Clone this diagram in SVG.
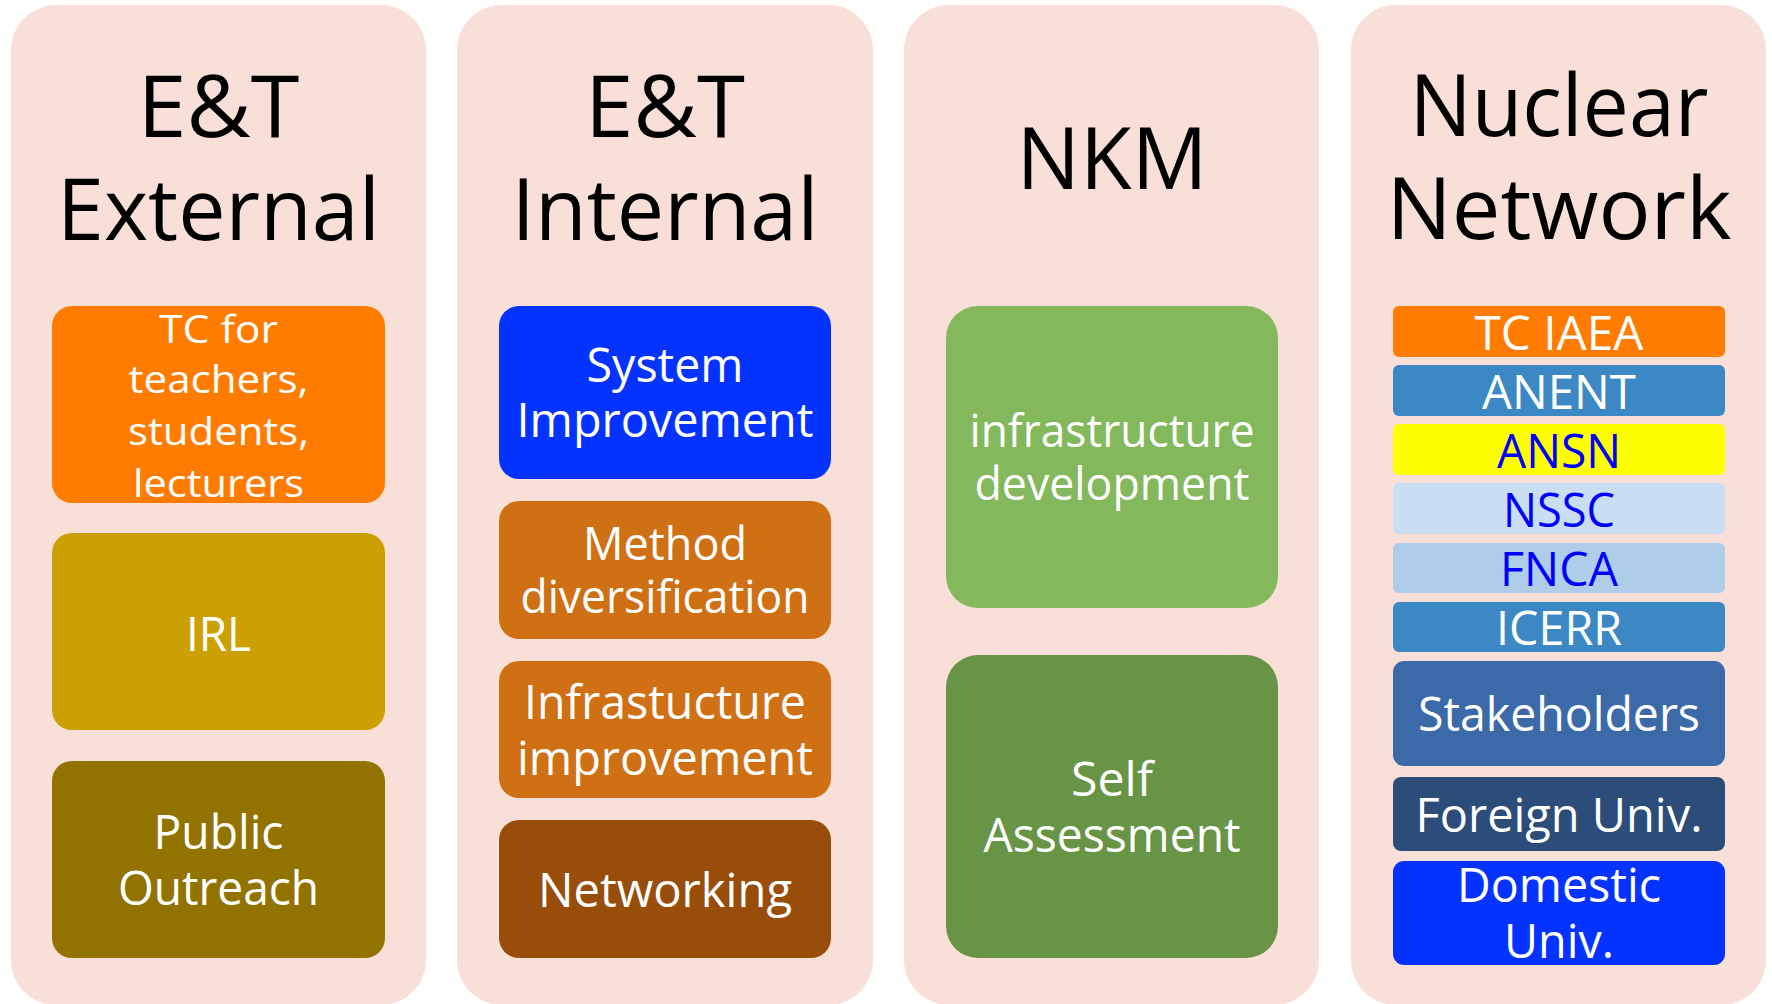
<svg xmlns="http://www.w3.org/2000/svg" width="1772" height="1004" viewBox="0 0 1772 1004">
<style>
.bg{fill:#ffffff}
.panel{fill:#F8DFD7}
text{font-family:"Open Sans","Liberation Sans",sans-serif;text-anchor:middle}
.title{font-size:86px;fill:#000000}
.w{fill:#ffffff;font-size:47.5px}
.b{fill:#0000FF;font-size:47.5px}
.s39{font-size:39px}
.s45{font-size:45px}
</style>
<rect class="bg" x="0" y="0" width="1772" height="1004"/>

<g id="panel-et-external">
<rect class="panel" x="11" y="5" width="415" height="1000" rx="45"/>
<text class="title" x="218.5" y="137" textLength="162" lengthAdjust="spacingAndGlyphs">E&amp;T</text>
<text class="title" x="218.5" y="240" textLength="323" lengthAdjust="spacingAndGlyphs">External</text>
</g>
<g id="node-tc-teachers">
<rect x="52" y="306" width="333" height="197" rx="20" fill="#FF7C00"/>
<text class="w s39" x="218.5" y="343" textLength="119" lengthAdjust="spacingAndGlyphs">TC for</text>
<text class="w s39" x="218.5" y="393" textLength="180" lengthAdjust="spacingAndGlyphs">teachers,</text>
<text class="w s39" x="218.5" y="445" textLength="181" lengthAdjust="spacingAndGlyphs">students,</text>
<text class="w s39" x="218.5" y="497" textLength="171" lengthAdjust="spacingAndGlyphs">lecturers</text>
</g>
<g id="node-irl">
<rect x="52" y="533" width="333" height="197" rx="20" fill="#CCA002"/>
<text class="w" x="218.5" y="651" textLength="65" lengthAdjust="spacingAndGlyphs">IRL</text>
</g>
<g id="node-public-outreach">
<rect x="52" y="761" width="333" height="197" rx="20" fill="#937300"/>
<text class="w" x="218.5" y="849" textLength="130" lengthAdjust="spacingAndGlyphs">Public</text>
<text class="w" x="218.5" y="905" textLength="201" lengthAdjust="spacingAndGlyphs">Outreach</text>
</g>

<g id="panel-et-internal">
<rect class="panel" x="457" y="5" width="416" height="1000" rx="45"/>
<text class="title" x="665" y="137" textLength="160" lengthAdjust="spacingAndGlyphs">E&amp;T</text>
<text class="title" x="665" y="240" textLength="307" lengthAdjust="spacingAndGlyphs">Internal</text>
</g>
<g id="node-system-improvement">
<rect x="499" y="306" width="332" height="173" rx="20" fill="#0432FF"/>
<text class="w" x="665" y="382" textLength="157" lengthAdjust="spacingAndGlyphs">System</text>
<text class="w" x="665" y="437" textLength="297" lengthAdjust="spacingAndGlyphs">Improvement</text>
</g>
<g id="node-method-diversification">
<rect x="499" y="501" width="332" height="138" rx="20" fill="#D07015"/>
<text class="w s45" x="665" y="560" textLength="164" lengthAdjust="spacingAndGlyphs">Method</text>
<text class="w s45" x="665" y="613" textLength="289" lengthAdjust="spacingAndGlyphs">diversification</text>
</g>
<g id="node-infrastucture-improvement">
<rect x="499" y="661" width="332" height="137" rx="20" fill="#D07015"/>
<text class="w" x="665" y="719" textLength="282" lengthAdjust="spacingAndGlyphs">Infrastucture</text>
<text class="w" x="665" y="775" textLength="296" lengthAdjust="spacingAndGlyphs">improvement</text>
</g>
<g id="node-networking">
<rect x="499" y="820" width="332" height="138" rx="20" fill="#994D0A"/>
<text class="w" x="665" y="907" textLength="254" lengthAdjust="spacingAndGlyphs">Networking</text>
</g>

<g id="panel-nkm">
<rect class="panel" x="904" y="5" width="415" height="1000" rx="45"/>
<text class="title" x="1112" y="189" textLength="191" lengthAdjust="spacingAndGlyphs">NKM</text>
</g>
<g id="node-infrastructure-development">
<rect x="946" y="306" width="332" height="302" rx="32" fill="#83B85C"/>
<text class="w s45" x="1112" y="447" textLength="285" lengthAdjust="spacingAndGlyphs">infrastructure</text>
<text class="w s45" x="1112" y="500" textLength="275" lengthAdjust="spacingAndGlyphs">development</text>
</g>
<g id="node-self-assessment">
<rect x="946" y="655" width="332" height="303" rx="32" fill="#679445"/>
<text class="w" x="1112" y="796" textLength="82" lengthAdjust="spacingAndGlyphs">Self</text>
<text class="w" x="1112" y="852" textLength="257" lengthAdjust="spacingAndGlyphs">Assessment</text>
</g>

<g id="panel-nuclear-network">
<rect class="panel" x="1351" y="5" width="415" height="1000" rx="45"/>
<text class="title" x="1559" y="136" textLength="299" lengthAdjust="spacingAndGlyphs">Nuclear</text>
<text class="title" x="1559" y="239" textLength="345" lengthAdjust="spacingAndGlyphs">Network</text>
</g>
<g id="node-tc-iaea">
<rect x="1393" y="306" width="332" height="51" rx="6" fill="#FF7C00"/>
<text class="w" x="1559" y="350" textLength="169" lengthAdjust="spacingAndGlyphs">TC IAEA</text>
</g>
<g id="node-anent">
<rect x="1393" y="365" width="332" height="51" rx="6" fill="#3B88C4"/>
<text class="w" x="1559" y="409" textLength="154" lengthAdjust="spacingAndGlyphs">ANENT</text>
</g>
<g id="node-ansn">
<rect x="1393" y="424" width="332" height="51" rx="6" fill="#FFFF00"/>
<text class="b" x="1559" y="468" textLength="124" lengthAdjust="spacingAndGlyphs">ANSN</text>
</g>
<g id="node-nssc">
<rect x="1393" y="483" width="332" height="51" rx="6" fill="#C9DEF2"/>
<text class="b" x="1559" y="527" textLength="112" lengthAdjust="spacingAndGlyphs">NSSC</text>
</g>
<g id="node-fnca">
<rect x="1393" y="543" width="332" height="50" rx="6" fill="#ADCDE9"/>
<text class="b" x="1559" y="586" textLength="118" lengthAdjust="spacingAndGlyphs">FNCA</text>
</g>
<g id="node-icerr">
<rect x="1393" y="602" width="332" height="50" rx="6" fill="#3B88C4"/>
<text class="w" x="1559" y="645" textLength="126" lengthAdjust="spacingAndGlyphs">ICERR</text>
</g>
<g id="node-stakeholders">
<rect x="1393" y="661" width="332" height="105" rx="11" fill="#3C6AA8"/>
<text class="w" x="1559" y="731" textLength="282" lengthAdjust="spacingAndGlyphs">Stakeholders</text>
</g>
<g id="node-foreign-univ">
<rect x="1393" y="777" width="332" height="74" rx="8" fill="#2C4C7A"/>
<text class="w" x="1559" y="832" textLength="287" lengthAdjust="spacingAndGlyphs">Foreign Univ.</text>
</g>
<g id="node-domestic-univ">
<rect x="1393" y="861" width="332" height="104" rx="11" fill="#0432FF"/>
<text class="w" x="1559" y="902" textLength="204" lengthAdjust="spacingAndGlyphs">Domestic</text>
<text class="w" x="1559" y="958" textLength="110" lengthAdjust="spacingAndGlyphs">Univ.</text>
</g>
</svg>
